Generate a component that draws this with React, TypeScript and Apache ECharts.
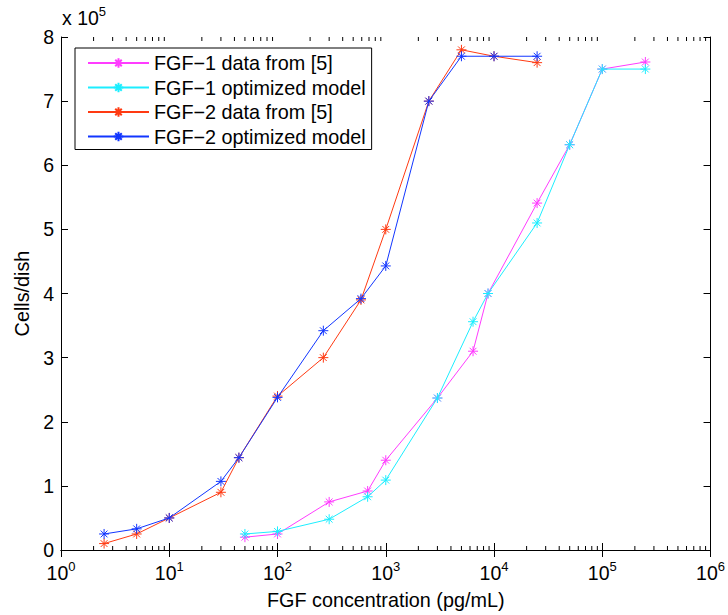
import React, { useEffect, useRef } from "react";
import * as echarts from "echarts";

const fgf1Conc = [50, 100, 300, 680, 1000, 3000, 6400, 8800, 25000, 50000, 100000, 250000];
const fgf1Data = [0.2, 0.25, 0.75, 0.92, 1.4, 2.37, 3.1, 4.0, 5.41, 6.32, 7.5, 7.61];
const fgf1Model = [0.25, 0.29, 0.48, 0.83, 1.09, 2.37, 3.56, 4.0, 5.1, 6.32, 7.5, 7.5];

const fgf2Conc = [2.5, 5, 10, 30, 44, 100, 265, 590, 1000, 2500, 5000, 10000, 25000];
const fgf2Data = [0.1, 0.25, 0.5, 0.9, 1.44, 2.4, 3.0, 3.9, 5.0, 7.0, 7.8, 7.7, 7.6];
const fgf2Model = [0.25, 0.33, 0.5, 1.07, 1.44, 2.38, 3.42, 3.92, 4.43, 7.0, 7.7, 7.7, 7.7];

const seriesNames = [
  "FGF\u22121 data from [5]",
  "FGF\u22121 optimized model",
  "FGF\u22122 data from [5]",
  "FGF\u22122 optimized model",
];
const seriesColors = ["#ff3cff", "#1ceeff", "#ff3a12", "#1236ff"];

const minorTickValues: number[] = [];
for (let e = 0; e < 6; e++) {
  for (let m = 2; m <= 9; m++) minorTickValues.push(m * Math.pow(10, e));
}

const FONT = "Liberation Sans, Arial, Helvetica, sans-serif";
const STAR = "path://M5 0L5 10M0 5L10 5M1.6 1.6L8.4 8.4M1.6 8.4L8.4 1.6";

function pairs(xs: number[], ys: number[]) {
  return xs.map((x, i) => [x, ys[i]]);
}

export default function App() {
  const ref = useRef<HTMLDivElement>(null);
  useEffect(() => {
    if (!ref.current) return;
    const chart = echarts.init(ref.current, undefined, { renderer: "svg" });
    const datasets = [
      pairs(fgf1Conc, fgf1Data),
      pairs(fgf1Conc, fgf1Model),
      pairs(fgf2Conc, fgf2Data),
      pairs(fgf2Conc, fgf2Model),
    ];
    const lineSeries = datasets.map((d, i) => ({
      type: "line",
      name: seriesNames[i],
      data: d,
      symbol: STAR,
      symbolSize: 10,
      showSymbol: true,
      lineStyle: { color: seriesColors[i], width: 1 },
      itemStyle: { color: seriesColors[i], borderColor: seriesColors[i], borderWidth: 1 },
      z: 3 + i,
    }));
    const tickLabelRich = {
      b: { fontSize: 19.5, fontFamily: FONT, color: "#000", lineHeight: 22 },
      s: { fontSize: 13, fontFamily: FONT, color: "#000", padding: [0, 0, 12, 0] },
    };
    const axisCommon = {
      axisLine: { show: true, lineStyle: { color: "#000", width: 1 } },
      splitLine: { show: false },
    };
    chart.setOption({
      animation: false,
      backgroundColor: "#fff",
      grid: { left: 61, right: 16, top: 37, bottom: 65, containLabel: false },
      legend: {
        data: seriesNames,
        orient: "vertical",
        left: 75,
        top: 48,
        itemWidth: 61,
        itemHeight: 12,
        itemGap: 4.5,
        padding: [5, 6, 3, 12],
        borderColor: "#000",
        borderWidth: 1,
        backgroundColor: "#fff",
        textStyle: { fontSize: 19.8, fontFamily: FONT, color: "#000", lineHeight: 20 },
      },
      xAxis: [
        {
          type: "log",
          logBase: 10,
          min: 1,
          max: 1000000,
          ...axisCommon,
          axisTick: { show: true, inside: true, length: 7, lineStyle: { color: "#000" } },
          axisLabel: {
            margin: 10,
            formatter: (v: number) => {
              const e = Math.round(Math.log10(v));
              return "{b|10}{s|" + e + "}";
            },
            rich: tickLabelRich,
          },
          name: "FGF concentration (pg/mL)",
          nameLocation: "middle",
          nameGap: 40,
          nameTextStyle: { fontSize: 19.8, fontFamily: FONT, color: "#000" },
        },
        {
          type: "log",
          logBase: 10,
          min: 1,
          max: 1000000,
          position: "top",
          ...axisCommon,
          axisTick: { show: true, inside: true, length: 7, lineStyle: { color: "#000" } },
          axisLabel: { show: false },
        },
      ],
      yAxis: [
        {
          type: "value",
          min: 0,
          max: 8,
          interval: 1,
          ...axisCommon,
          axisTick: { show: true, inside: true, length: 7, lineStyle: { color: "#000" } },
          axisLabel: { fontSize: 19.5, fontFamily: FONT, color: "#000", margin: 7 },
          name: "Cells/dish",
          nameLocation: "middle",
          nameGap: 26,
          nameTextStyle: { fontSize: 19.8, fontFamily: FONT, color: "#000" },
        },
        {
          type: "value",
          min: 0,
          max: 8,
          interval: 1,
          position: "right",
          ...axisCommon,
          axisTick: { show: true, inside: true, length: 7, lineStyle: { color: "#000" } },
          axisLabel: { show: false },
        },
      ],
      graphic: [
        {
          type: "text",
          left: 62,
          top: 5,
          style: {
            text: "{a|x 10}{b|5}",
            rich: {
              a: { fontSize: 19.5, fontFamily: FONT, fill: "#000", lineHeight: 22 },
              b: { fontSize: 13, fontFamily: FONT, fill: "#000", padding: [0, 0, 12, 0] },
            },
          },
        },
      ],
      series: [
        {
          type: "custom",
          name: "minorTicks",
          silent: true,
          clip: false,
          z: 1,
          data: minorTickValues.map((v) => [v, 0]),
          renderItem: (params: any, api: any) => {
            const v = api.value(0);
            const b = api.coord([v, 0]);
            const t = api.coord([v, 8]);
            const style = { stroke: "#000", lineWidth: 1 };
            return {
              type: "group",
              children: [
                { type: "line", shape: { x1: b[0], y1: b[1], x2: b[0], y2: b[1] - 4 }, style },
                { type: "line", shape: { x1: t[0], y1: t[1], x2: t[0], y2: t[1] + 4 }, style },
              ],
            };
          },
        },
        ...lineSeries,
      ],
    });
    return () => chart.dispose();
  }, []);
  return (
    <div
      ref={ref}
      style={{ position: "absolute", left: 0, top: 0, width: 728, height: 615 }}
    />
  );
}
